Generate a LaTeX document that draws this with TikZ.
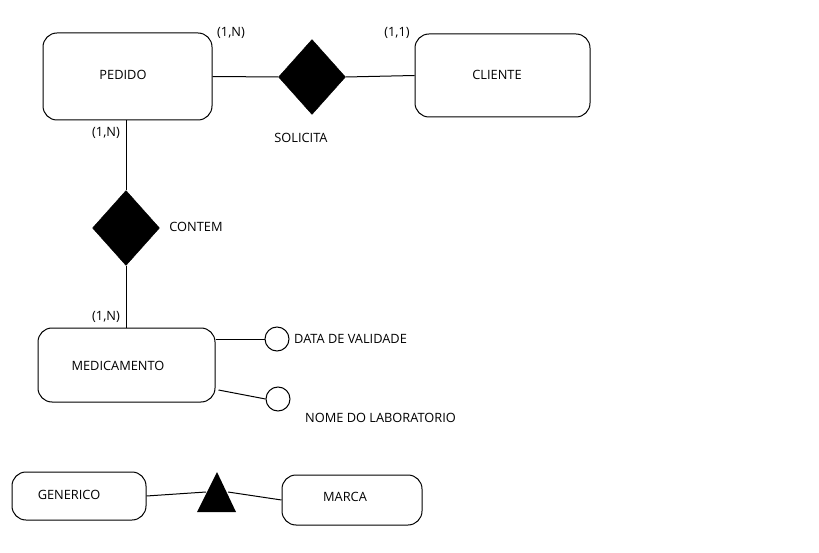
\documentclass[tikz,border=0pt]{standalone}
\usepackage{fontspec}
\setmainfont{Open Sans}
\usetikzlibrary{shapes.geometric,calc}
\begin{document}
\begin{tikzpicture}[x=1pt,y=-1pt,
  every node/.style={font=\fontsize{12.8}{15}\selectfont},
  entity/.style={draw,rounded corners=14pt,line width=1pt,inner sep=0pt},
  rel/.style={diamond,fill=black,draw=black,inner sep=0pt,minimum width=67pt,minimum height=75pt},
  attr/.style={circle,draw,line width=1pt,minimum size=24pt,inner sep=0pt},
  conn/.style={line width=1pt},
  lbl/.style={inner sep=0pt}]
\useasboundingbox (0,0) rectangle (819,553);
% entities
\node[entity,minimum width=169pt,minimum height=87pt] (pedido) at (127.5,76.5) {};
\node[lbl] (tpedido) at (123,75) {PEDIDO};
\node[entity,minimum width=175pt,minimum height=83pt] (cliente) at (502.5,75.5) {};
\node[lbl] (tcliente) at (497,75) {CLIENTE};
\node[entity,minimum width=177pt,minimum height=74pt] (med) at (126.5,365) {};
\node[lbl] (tmed) at (118,366) {MEDICAMENTO};
\node[entity,minimum width=134pt,minimum height=48pt] (gen) at (79,496) {};
\node[lbl] (tgen) at (69,495) {GENERICO};
\node[entity,minimum width=140pt,minimum height=50pt] (marca) at (352,500) {};
\node[lbl] (tmarca) at (345,497) {MARCA};
% relationships
\node[rel] (solicita) at (312,77) {};
\node[rel] (contem) at (126,228) {};
\fill (217,472) coordinate (tritop) -- (236,512) coordinate (trir) -- (197,512) coordinate (tril) -- cycle;
\coordinate (trileft) at (206,492);
\coordinate (triright) at (228,492);
% attributes
\node[attr] (a1) at (277,339) {};
\node[attr] (a2) at (278,399) {};
% connectors
\draw[conn] (pedido.east) -- (solicita.west);
\draw[conn] (solicita.east) -- (cliente.west);
\draw[conn] (pedido.south -| contem.north) -- (contem.north);
\draw[conn] (contem.south) -- (med.north -| contem.south);
\draw[conn] (med.east |- a1.west) -- (a1.west);
\draw[conn] ([shift={(3,25)}]med.east) -- (a2.west);
\draw[conn] (gen.east) -- (trileft);
\draw[conn] (triright) -- (marca.west);
% labels
\node[lbl] (c1) at (231,33) {(1,N)};
\node[lbl] (c2) at (397,33) {(1,1)};
\node[lbl] (c3) at (106,133) {(1,N)};
\node[lbl] (c4) at (106,317) {(1,N)};
\node[lbl] (lsol) at (301,138) {SOLICITA};
\node[lbl] (lcon) at (196,227) {CONTEM};
\node[lbl,anchor=west] (la1) at (294,339) {DATA DE VALIDADE};
\node[lbl,anchor=west] (la2) at (305,418) {NOME DO LABORATORIO};
\end{tikzpicture}
\end{document}
